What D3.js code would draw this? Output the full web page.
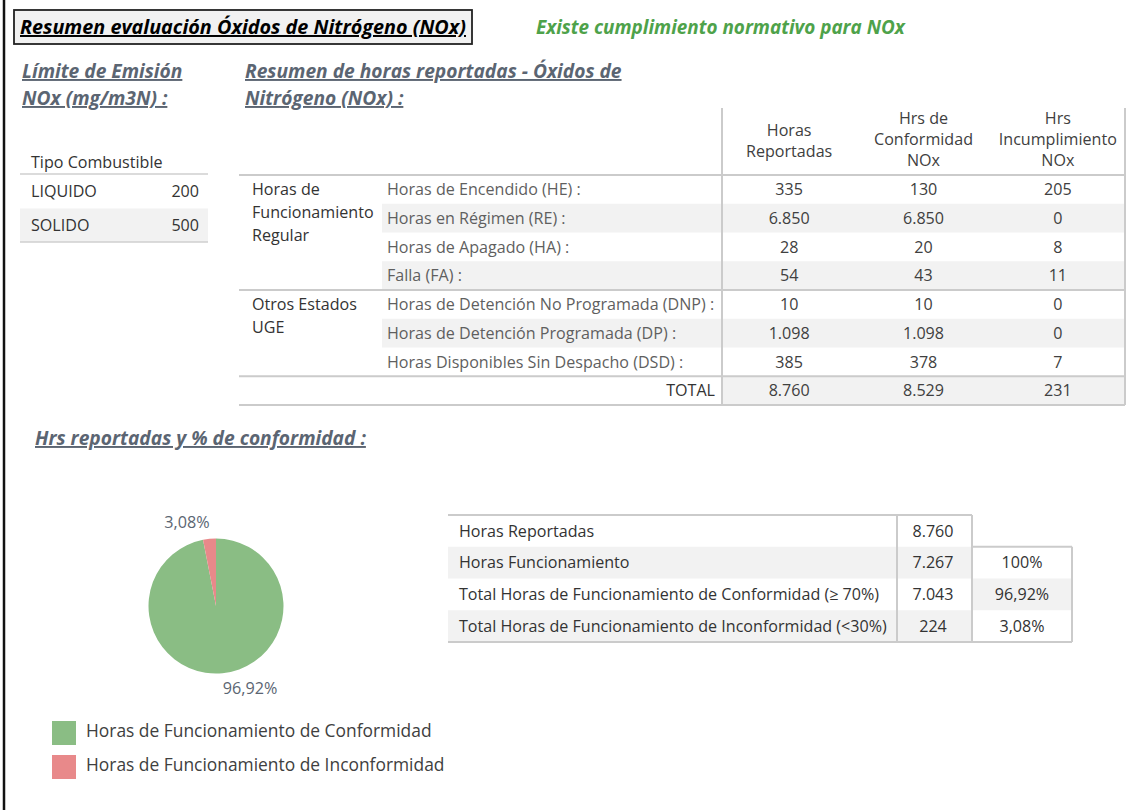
<!DOCTYPE html>
<html>
<head>
<meta charset="utf-8">
<script src="https://cdn.jsdelivr.net/npm/d3@7"></script>
<style>
  body { margin: 0; background: #fff; }
  svg { display: block; font-family: "Open Sans", Lato, sans-serif; }
  .h { font-weight: bold; font-style: italic; text-decoration: underline; }
</style>
</head>
<body>
<script>
// datos
const fuelTypes = ['LIQUIDO', 'SOLIDO'];
const fuelLimits = [200, 500];

const headerCols = [['Horas', 'Reportadas'], ['Hrs de', 'Conformidad', 'NOx'], ['Hrs', 'Incumplimiento', 'NOx']];
const groupLabels = [['Horas de', 'Funcionamiento', 'Regular'], ['Otros Estados', 'UGE']];
const rowLabels = ['Horas de Encendido (HE) :', 'Horas en Régimen (RE) :', 'Horas de Apagado (HA) :', 'Falla (FA) :',
  'Horas de Detención No Programada (DNP) :', 'Horas de Detención Programada (DP) :', 'Horas Disponibles Sin Despacho (DSD) :'];
const hrsReportadas = [335, 6850, 28, 54, 10, 1098, 385];
const hrsConformidad = [130, 6850, 20, 43, 10, 1098, 378];
const hrsIncumplimiento = [205, 0, 8, 11, 0, 0, 7];
const totals = [8760, 8529, 231];

const summaryLabels = ['Horas Reportadas', 'Horas Funcionamiento', 'Total Horas de Funcionamiento de Conformidad (≥ 70%)', 'Total Horas de Funcionamiento de Inconformidad (<30%)'];
const summaryHours = [8760, 7267, 7043, 224];
const summaryPct = ['100%', '96,92%', '3,08%'];

const pieCategories = ['Horas de Funcionamiento de Conformidad', 'Horas de Funcionamiento de Inconformidad'];
const pieValues = [96.92, 3.08];
const pieColors = ['#8abd84', '#e8898a'];

const es = d3.formatLocale({decimal: ',', thousands: '.', grouping: [3], currency: ['', '']});
const fmt = es.format(',d');

const width = 1139, height = 810;
const body = 16.1;
const svg = d3.select('body').append('svg').attr('width', width).attr('height', height);
svg.append('rect').attr('width', width).attr('height', height).attr('fill', '#fff');

// marco izquierdo
svg.append('line').attr('x1', 4).attr('x2', 4).attr('y1', 0).attr('y2', height)
  .attr('stroke', '#111').attr('stroke-width', 2.5);

// titulo
svg.append('rect').attr('x', 14).attr('y', 10).attr('width', 458).attr('height', 34)
  .attr('fill', '#f1f1f1').attr('stroke', '#222').attr('stroke-width', 1.8);
svg.append('text').attr('class', 'h').attr('x', 20).attr('y', 34).attr('font-size', 19.8)
  .attr('fill', '#000').text('Resumen evaluación Óxidos de Nitrógeno (NOx)');
svg.append('text').attr('x', 536).attr('y', 34).attr('font-size', 18.9).attr('font-weight', 'bold')
  .attr('font-style', 'italic').attr('fill', '#4ea24a').text('Existe cumplimiento normativo para NOx');

const sub = '#5b6572';
[['Límite de Emisión', 22, 78], ['NOx (mg/m3N) :', 22, 105],
 ['Resumen de horas reportadas - Óxidos de', 245, 78], ['Nitrógeno (NOx) :', 245, 105],
 ['Hrs reportadas y % de conformidad :', 35, 445]].forEach(([t, x, y]) => {
  svg.append('text').attr('class', 'h').attr('x', x).attr('y', y).attr('font-size', 19.2)
    .attr('fill', sub).text(t);
});

// tabla limites
const fy = d3.scaleBand().domain(fuelTypes).range([175, 242]);
const lt = svg.append('g').attr('font-size', body).attr('fill', '#333');
lt.append('text').attr('x', 31).attr('y', 162).attr('dy', '0.35em').text('Tipo Combustible');
lt.append('rect').attr('x', 20).attr('y', fy('SOLIDO')).attr('width', 188).attr('height', fy.bandwidth()).attr('fill', '#f2f2f2');
[174, 242].forEach(y => lt.append('line').attr('x1', 20).attr('x2', 208).attr('y1', y).attr('y2', y)
  .attr('stroke', '#cfcfcf').attr('stroke-width', 1.5));
fuelTypes.forEach((f, i) => {
  const cy = fy(f) + fy.bandwidth() / 2;
  lt.append('text').attr('x', 31).attr('y', cy).attr('dy', '0.35em').text(f);
  lt.append('text').attr('x', 199).attr('y', cy).attr('dy', '0.35em').attr('text-anchor', 'end').text(fuelLimits[i]);
});

// tabla resumen de horas
const x0 = 239, xDiv = 722, x1 = 1125;
const ry = d3.scaleBand().domain(d3.range(rowLabels.length + 1)).range([175, 405]);
const cx = d3.scaleBand().domain(d3.range(3)).range([xDiv, x1]);
const mt = svg.append('g').attr('font-size', body);

rowLabels.forEach((r, i) => {
  if (i % 2 === 1) mt.append('rect').attr('x', 382).attr('y', ry(i)).attr('width', x1 - 382)
    .attr('height', ry.bandwidth()).attr('fill', '#f2f2f2');
});
mt.append('rect').attr('x', xDiv).attr('y', ry(rowLabels.length)).attr('width', x1 - xDiv)
  .attr('height', ry.bandwidth()).attr('fill', '#f2f2f2');

[ry(0), ry(4), ry(rowLabels.length), 405].forEach(y => mt.append('line')
  .attr('x1', x0).attr('x2', x1).attr('y1', y).attr('y2', y).attr('stroke', '#cbcbcb').attr('stroke-width', 2));
[xDiv, x1].forEach(x => mt.append('line').attr('x1', x).attr('x2', x).attr('y1', 108).attr('y2', 405)
  .attr('stroke', '#cbcbcb').attr('stroke-width', 2));

headerCols.forEach((lines, c) => {
  const n = lines.length;
  lines.forEach((t, k) => {
    mt.append('text').attr('x', cx(c) + cx.bandwidth() / 2).attr('y', 160 - (n - 1 - k) * 21 - (n === 2 ? 9 : 0))
      .attr('dy', '0.35em').attr('text-anchor', 'middle').attr('fill', '#404040').text(t);
  });
});

const groupStart = [0, 4];
groupLabels.forEach((lines, g) => {
  lines.forEach((t, k) => {
    mt.append('text').attr('x', 252).attr('y', ry(groupStart[g]) + ry.bandwidth() / 2 + k * 23)
      .attr('dy', '0.35em').attr('fill', '#333').text(t);
  });
});

const cols = [hrsReportadas, hrsConformidad, hrsIncumplimiento];
rowLabels.forEach((r, i) => {
  const cy = ry(i) + ry.bandwidth() / 2;
  mt.append('text').attr('x', 387).attr('y', cy).attr('dy', '0.35em').attr('fill', '#5f5f5f').text(r);
  cols.forEach((col, c) => mt.append('text').attr('x', cx(c) + cx.bandwidth() / 2).attr('y', cy)
    .attr('dy', '0.35em').attr('text-anchor', 'middle').attr('fill', '#404040').text(fmt(col[i])));
});
const ty = ry(rowLabels.length) + ry.bandwidth() / 2;
mt.append('text').attr('x', 715).attr('y', ty).attr('dy', '0.35em').attr('text-anchor', 'end').attr('fill', '#333').text('TOTAL');
totals.forEach((v, c) => mt.append('text').attr('x', cx(c) + cx.bandwidth() / 2).attr('y', ty)
  .attr('dy', '0.35em').attr('text-anchor', 'middle').attr('fill', '#404040').text(fmt(v)));

// grafico de torta
const radius = 67.5;
const pg = svg.append('g').attr('transform', 'translate(216,606)');
const pie = d3.pie().sort(null);
const arc = d3.arc().innerRadius(0).outerRadius(radius);
const arcs = pie(pieValues);
pg.selectAll('path').data(arcs).enter().append('path')
  .attr('d', arc).attr('fill', (d, i) => pieColors[i]);
const labelOffsets = [[34, 82], [-29, -84]];
pg.selectAll('text.lbl').data(arcs).enter().append('text').attr('class', 'lbl')
  .attr('transform', (d, i) => `translate(${labelOffsets[i]})`)
  .attr('text-anchor', 'middle').attr('dy', '0.35em').attr('font-size', 16.2).attr('fill', '#5b6572')
  .text((d, i) => es.format('.2f')(pieValues[i]) + '%');

// leyenda
const lg = svg.append('g').attr('font-size', 17.4).attr('fill', '#404040');
pieCategories.forEach((c, i) => {
  const y = 721 + i * 34;
  lg.append('rect').attr('x', 52).attr('y', y).attr('width', 24).attr('height', 24).attr('fill', pieColors[i]);
  lg.append('text').attr('x', 86).attr('y', y + 10).attr('dy', '0.35em').text(c);
});

// tabla resumen %
const sy = d3.scaleBand().domain(d3.range(summaryLabels.length)).range([515, 642]);
const st = svg.append('g').attr('font-size', body).attr('fill', '#333');
summaryLabels.forEach((s, i) => {
  if (i % 2 === 1) st.append('rect').attr('x', 448).attr('y', sy(i)).attr('width', 972 - 448)
    .attr('height', sy.bandwidth()).attr('fill', '#f2f2f2');
});
summaryPct.forEach((p, j) => {
  if (j % 2 === 1) st.append('rect').attr('x', 972).attr('y', sy(j + 1)).attr('width', 100)
    .attr('height', sy.bandwidth()).attr('fill', '#f2f2f2');
});
const ln = (a, b, c, d) => st.append('line').attr('x1', a).attr('y1', b).attr('x2', c).attr('y2', d)
  .attr('stroke', '#cbcbcb').attr('stroke-width', 2);
ln(448, 515, 972, 515);
ln(972, sy(1), 1072, sy(1));
ln(448, 642, 1072, 642);
ln(897, 515, 897, 642);
ln(972, 515, 972, 642);
ln(1072, sy(1), 1072, 642);
summaryLabels.forEach((s, i) => {
  const cy = sy(i) + sy.bandwidth() / 2;
  st.append('text').attr('x', 459).attr('y', cy).attr('dy', '0.35em').text(s);
  st.append('text').attr('x', 933).attr('y', cy).attr('dy', '0.35em').attr('text-anchor', 'middle').text(fmt(summaryHours[i]));
  if (i > 0) st.append('text').attr('x', 1022).attr('y', cy).attr('dy', '0.35em').attr('text-anchor', 'middle').text(summaryPct[i - 1]);
});
</script>
</body>
</html>
